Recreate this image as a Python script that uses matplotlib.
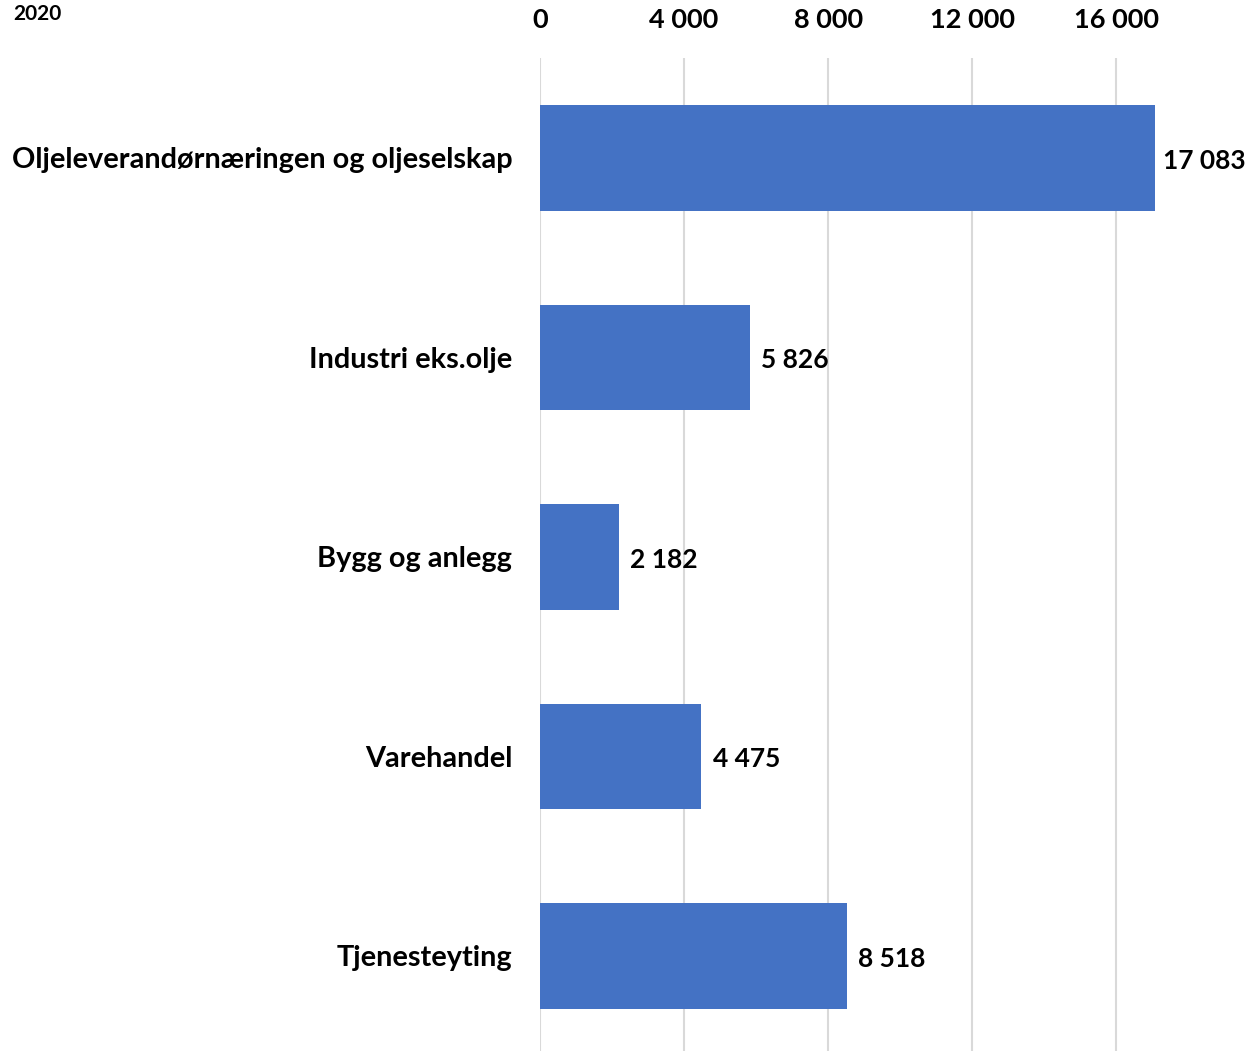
import matplotlib.pyplot as plt
from matplotlib.ticker import FuncFormatter

categories = ["Oljeleverandørnæringen og oljeselskap", "Industri eks.olje",
              "Bygg og anlegg", "Varehandel", "Tjenesteyting"]
values = [17083, 5826, 2182, 4475, 8518]
xticks = [0, 4000, 8000, 12000, 16000]
year = "2020"


def space_fmt(v, pos=None):
    return f"{int(round(v)):,}".replace(",", " ")


plt.rcParams['font.family'] = ['Lato', 'DejaVu Sans']
plt.rcParams['font.weight'] = 'bold'

fig = plt.figure(figsize=(12.47, 10.51), dpi=100)
ax = fig.add_axes([0.433, -0.0045, 0.52, 0.9491])

ypos = range(len(categories))
ax.barh(ypos, values, height=0.53, color="#4472C4", zorder=2)
for y, v in zip(ypos, values):
    # the longest bar leaves little room on the right, so keep its label closer
    gap = 220 if v == max(values) else 320
    ax.text(v + gap, y + 0.015, space_fmt(v), va="center", ha="left",
            fontsize=19, fontweight="bold", color="black")

ax.set_ylim(len(categories) - 0.5, -0.5)
ax.set_xlim(0, 18000)
ax.set_yticks(list(ypos))
ax.set_yticklabels(categories)
ax.set_xticks(xticks)
ax.xaxis.set_major_formatter(FuncFormatter(space_fmt))
ax.xaxis.tick_top()
ax.tick_params(axis="x", length=0, pad=19, labelsize=19.5)
ax.tick_params(axis="y", length=0, pad=20, labelsize=20.8)
for lab in ax.get_xticklabels() + ax.get_yticklabels():
    lab.set_fontweight("bold")
ax.grid(axis="x", color="#D9D9D9", linewidth=1.5, zorder=0)
for s in ax.spines.values():
    s.set_visible(False)

fig.text(13 / 1247, 1 - 14 / 1051, year, fontsize=15, fontweight="bold",
         va="center", ha="left")

fig.savefig("out.png", dpi=100)
